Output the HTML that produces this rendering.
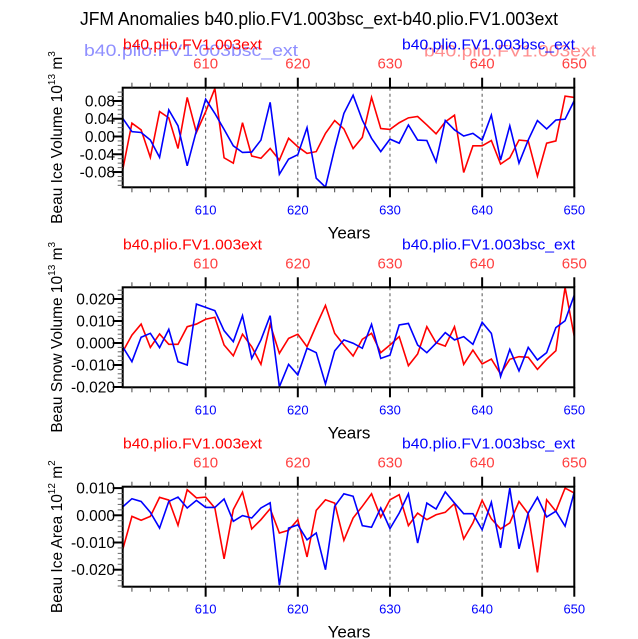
<!DOCTYPE html>
<html><head><meta charset="utf-8">
<style>
html,body{margin:0;padding:0;background:#fff;}
svg{display:block;font-family:"Liberation Sans",sans-serif;}
</style></head>
<body>
<svg id="chart" width="638" height="639" viewBox="0 0 638 639" xmlns="http://www.w3.org/2000/svg">
<text x="319" y="25" font-size="18" text-anchor="middle" textLength="478" lengthAdjust="spacingAndGlyphs">JFM Anomalies b40.plio.FV1.003bsc_ext-b40.plio.FV1.003ext</text>
<g id="panels"></g>
</svg>
<script>
const years = [];
for (let y = 601; y <= 650; y++) years.push(y);
const xTickLabels = ["610","620","630","640","650"];

const iceVolRed = [-0.075,0.030,0.015,-0.047,0.056,0.042,-0.027,0.088,0.009,0.056,0.108,-0.048,-0.060,0.031,-0.044,-0.049,-0.027,-0.053,-0.004,-0.023,-0.038,-0.034,0.007,0.036,0.017,-0.027,-0.002,0.088,0.018,0.016,0.031,0.042,0.045,0.026,0.006,0.033,0.048,-0.081,-0.021,-0.021,-0.009,-0.062,-0.048,-0.008,-0.010,-0.089,-0.015,-0.010,0.091,0.088];
const iceVolBlue = [0.041,0.011,0.009,-0.008,-0.047,0.060,0.024,-0.066,0.013,0.084,0.052,0.016,-0.021,-0.036,-0.035,-0.008,0.077,-0.085,-0.051,-0.041,0.020,-0.094,-0.114,-0.027,0.052,0.093,0.037,-0.004,-0.034,-0.006,-0.015,0.026,-0.008,-0.009,-0.057,0.036,0.015,0.001,0.007,-0.008,0.048,-0.053,0.024,-0.060,-0.008,0.036,0.017,0.037,0.039,0.081];
const iceVolTicks = [-0.08,-0.04,0.0,0.04,0.08];
const iceVolTickLabels = ["-0.08","-0.04","0.00","0.04","0.08"];

const snowRed = [-0.0040,0.0036,0.0086,-0.0020,0.0041,-0.0006,-0.0006,0.0074,0.0086,0.0108,0.0117,-0.0009,-0.0058,0.0040,-0.0017,-0.0097,0.0085,-0.0047,0.0021,0.0040,-0.0017,0.0079,0.0171,0.0044,-0.0009,-0.0059,0.0017,0.0044,-0.0044,-0.0009,0.0029,-0.0103,-0.0050,0.0074,0.0001,-0.0014,0.0074,-0.0097,-0.0032,-0.0095,-0.0073,-0.0141,-0.0074,-0.0062,-0.0065,-0.0120,-0.0074,-0.0035,0.0253,0.0029];
const snowBlue = [-0.0017,-0.0085,0.0026,0.0044,-0.0021,0.0062,-0.0085,-0.0100,0.0177,0.0162,0.0147,0.0056,0.0006,0.0124,-0.0070,0.0014,0.0124,-0.0199,-0.0097,-0.0145,-0.0024,-0.0044,-0.0186,-0.0036,0.0014,-0.0001,-0.0024,0.0085,-0.0070,-0.0055,0.0082,0.0089,-0.0009,-0.0044,-0.0001,0.0047,0.0014,0.0029,-0.0006,0.0094,0.0044,-0.0153,-0.0029,-0.0127,-0.0020,-0.0077,-0.0044,0.0070,0.0101,0.0218];
const snowTicks = [-0.02,-0.01,0.0,0.01,0.02];
const snowTickLabels = ["-0.020","-0.010","0.000","0.010","0.020"];

const areaRed = [-0.0126,-0.0004,-0.0018,-0.0004,0.0066,0.0056,-0.0037,0.0094,0.0064,0.0067,0.0027,-0.0160,0.0021,0.0085,-0.0050,-0.0016,0.0024,-0.0065,-0.0055,-0.0016,-0.0153,0.0018,0.0057,0.0045,-0.0092,-0.0010,0.0033,0.0079,-0.0007,0.0057,0.0076,-0.0038,0.0008,-0.0016,0.0002,0.0011,0.0043,-0.0087,-0.0028,0.0055,-0.0013,-0.0050,-0.0028,0.0051,0.0006,-0.0210,0.0057,0.0015,0.0100,0.0082];
const areaBlue = [0.0031,0.0061,0.0051,0.0011,-0.0047,0.0051,0.0067,0.0027,0.0055,0.0029,0.0029,0.0060,-0.0022,-0.0001,-0.0010,0.0027,0.0046,-0.0257,-0.0047,-0.0035,-0.0090,-0.0065,-0.0200,0.0033,0.0079,0.0070,-0.0038,-0.0044,0.0027,-0.0049,0.0008,0.0079,-0.0102,0.0045,0.0023,0.0086,0.0045,0.0006,0.0006,-0.0053,0.0048,-0.0120,0.0100,-0.0123,0.0008,0.0066,-0.0006,0.0015,-0.0040,0.0086];
const areaTicks = [-0.02,-0.01,0.0,0.01];
const areaTickLabels = ["-0.020","-0.010","0.000","0.010"];

const NS = "http://www.w3.org/2000/svg";
const X0 = 122.7, X1 = 574.3;
function xScale(yr){ return X0 + (yr - 601) * (X1 - X0) / 49; }
function mk(tag, attrs, parent){
  const e = document.createElementNS(NS, tag);
  for (const k in attrs) e.setAttribute(k, attrs[k]);
  parent.appendChild(e);
  return e;
}
const root = document.getElementById("panels");

const panels = [
  {key:"ice-volume", top:87.7, bot:187.3, zero:136.5, scale:444, red:iceVolRed, blue:iceVolBlue, ticks:iceVolTicks, tl:iceVolTickLabels, minor:0.01, unitExp:"13", unit:"3", title:"Beau Ice Volume 10", ghost:true},
  {key:"snow-volume", top:287.3, bot:387.3, zero:343, scale:2200, red:snowRed, blue:snowBlue, ticks:snowTicks, tl:snowTickLabels, minor:0.002, unitExp:"13", unit:"3", title:"Beau Snow Volume 10", ghost:false},
  {key:"ice-area", top:486.7, bot:586.7, zero:515.3, scale:2720, red:areaRed, blue:areaBlue, ticks:areaTicks, tl:areaTickLabels, minor:0.002, unitExp:"12", unit:"2", title:"Beau Ice Area 10", ghost:false}
];

panels.forEach((p, pi) => {
  const g = mk("g", {}, root);
  
  
  const yS = v => p.zero - v * p.scale;
  const vMin = (p.zero - p.bot) / p.scale, vMax = (p.zero - p.top) / p.scale;
  const clipId = "clip" + pi;
  const cp = mk("clipPath", {id: clipId}, g);
  mk("rect", {x: X0, y: p.top, width: X1 - X0, height: p.bot - p.top}, cp);

  [610,620,630,640].forEach(yr => {
    const l = mk("line", {x1: xScale(yr), x2: xScale(yr), y1: p.top, y2: p.bot, stroke: "#555", "stroke-width": 1, "stroke-dasharray": "3,3"}, g);
    
    
  });

  [["red", p.red, "#ff0000"], ["blue", p.blue, "#0000ff"]].forEach(([nm, arr, col]) => {
    const pts = arr.map((v, i) => xScale(years[i]).toFixed(2) + "," + yS(v).toFixed(2)).join(" ");
    const pl = mk("polyline", {points: pts, fill: "none", stroke: col, "stroke-width": 1.6, "clip-path": "url(#" + clipId + ")"}, g);
    
    
  });

  const fr = mk("rect", {x: X0, y: p.top, width: X1 - X0, height: p.bot - p.top, fill: "none", stroke: "#000", "stroke-width": 2}, g);
  
  

  for (let yr = 602; yr <= 650; yr += 2) {
    const major = yr % 10 === 0;
    const len = major ? 10 : 5;
    const x = xScale(yr);
    mk("line", {x1: x, x2: x, y1: p.top, y2: p.top - len, stroke: major ? "#000" : "#444", "stroke-width": major ? 2 : 1}, g);
    mk("line", {x1: x, x2: x, y1: p.bot, y2: p.bot + len, stroke: major ? "#000" : "#444", "stroke-width": major ? 2 : 1}, g);
  }
  xTickLabels.forEach(lbl => {
    const x = xScale(+lbl);
    const t1 = mk("text", {x: x, y: p.top - 19, "font-size": 15, fill: "#ff4040", "text-anchor": "middle"}, g);
    t1.textContent = lbl;
    
    
    const t2 = mk("text", {x: x, y: p.bot + 27, "font-size": 13, fill: "#0000ff", "text-anchor": "middle"}, g);
    t2.textContent = lbl;
    
    
  });
  const xt = mk("text", {x: 349, y: p.bot + 51, "font-size": 17, "text-anchor": "middle"}, g);
  xt.textContent = "Years";
  
  

  const nMin = Math.ceil(vMin / p.minor - 1e-6), nMax = Math.floor(vMax / p.minor + 1e-6);
  for (let n = nMin; n <= nMax; n++) {
    const y = yS(n * p.minor);
    mk("line", {x1: X0, x2: X0 - 5, y1: y, y2: y, stroke: "#666", "stroke-width": 1}, g);
  }
  p.ticks.forEach((v, i) => {
    const y = yS(v);
    mk("line", {x1: X0, x2: X0 - 10, y1: y, y2: y, stroke: "#000", "stroke-width": 2}, g);
    const t = mk("text", {x: 115, y: y + 5.5, "font-size": 15.5, "text-anchor": "end"}, g);
    t.textContent = p.tl[i];
    
    
  });

  const cy = (p.top + p.bot) / 2;
  const yt = mk("text", {x: 0, y: 0, "font-size": 15.5, "text-anchor": "middle", transform: "translate(62," + cy + ") rotate(-90)"}, g);
  
  
  const s1 = mk("tspan", {}, yt); s1.textContent = p.title;
  const s2 = mk("tspan", {dy: -7, "font-size": 10}, yt); s2.textContent = p.unitExp;
  const s3 = mk("tspan", {dy: 7}, yt); s3.textContent = " m";
  const s4 = mk("tspan", {dy: -7, "font-size": 10}, yt); s4.textContent = p.unit;

  const base = p.top - 38;
  const lr = mk("text", {x: 123, y: base, "font-size": 15, fill: "#ff0000", textLength: 139, lengthAdjust: "spacingAndGlyphs"}, g);
  lr.textContent = "b40.plio.FV1.003ext";
  
  
  const lb = mk("text", {x: 402, y: base, "font-size": 15, fill: "#0000ff", textLength: 173, lengthAdjust: "spacingAndGlyphs"}, g);
  lb.textContent = "b40.plio.FV1.003bsc_ext";
  
  
  if (p.ghost) {
    const gb = mk("text", {x: 84, y: 56, "font-size": 17, fill: "#8f8fff", textLength: 214, lengthAdjust: "spacingAndGlyphs"}, g);
    gb.textContent = "b40.plio.FV1.003bsc_ext";
    
    
    const gr = mk("text", {x: 424, y: 56.5, "font-size": 17, fill: "#ff8f8f", textLength: 172, lengthAdjust: "spacingAndGlyphs"}, g);
    gr.textContent = "b40.plio.FV1.003ext";
    
    
    g.appendChild(lr); g.appendChild(lb);
  }
});
</script>
</body></html>
